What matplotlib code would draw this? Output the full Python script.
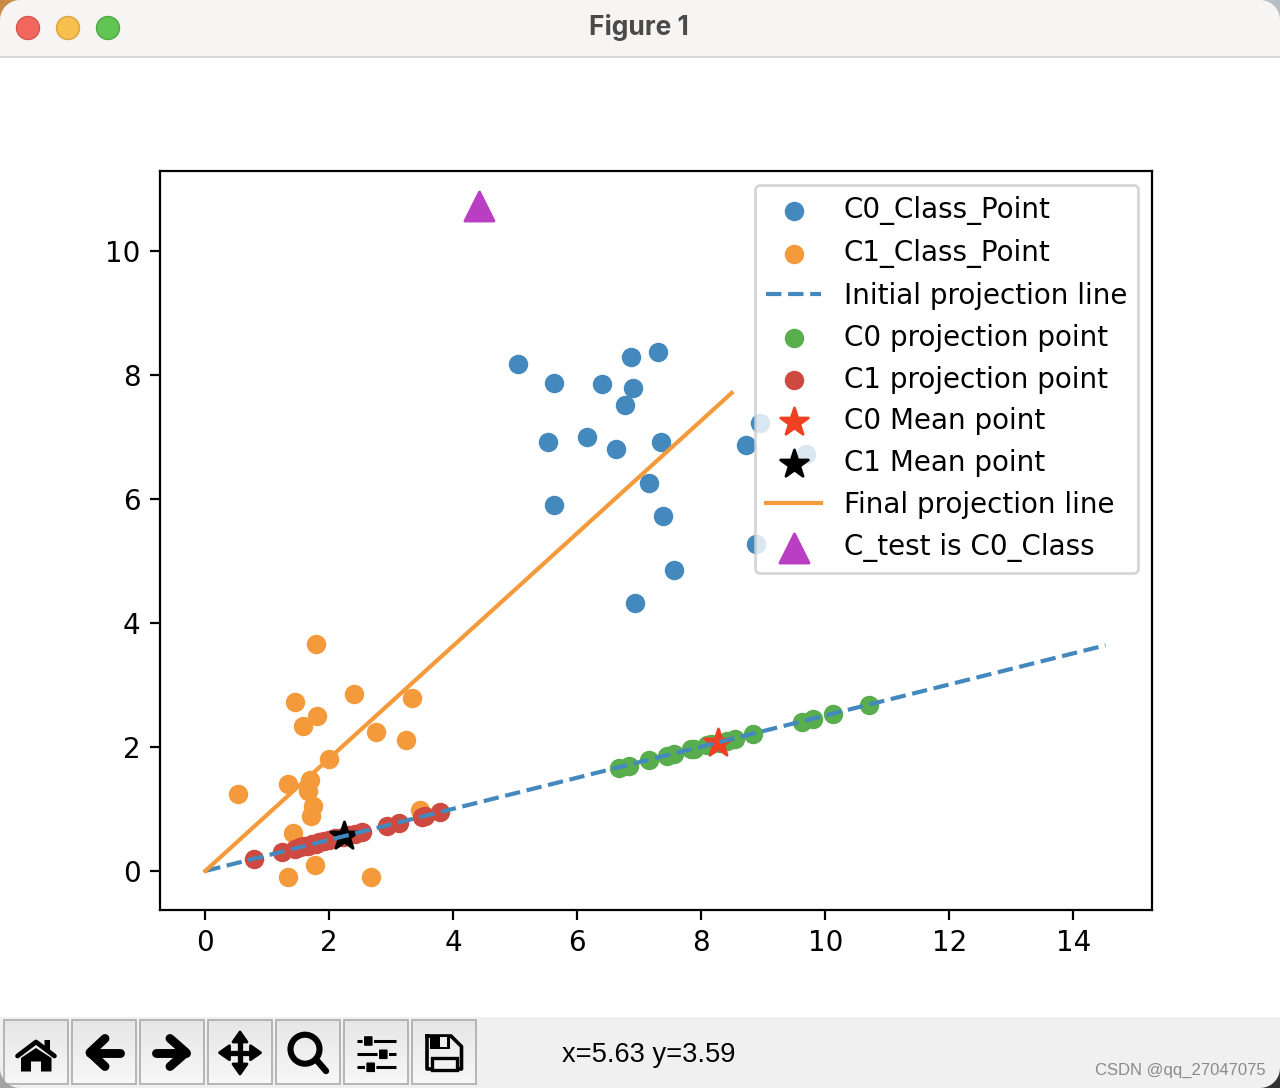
import matplotlib
matplotlib.use('Agg')
import numpy as np
import matplotlib.pyplot as plt
from matplotlib.patches import Circle, Rectangle, Polygon, FancyBboxPatch

c0_x = [5.04, 5.52, 5.62, 5.62, 6.15, 6.40, 6.62, 6.77, 6.86, 6.90, 6.93, 7.15, 7.30, 7.35, 7.38, 7.56, 8.72, 8.94, 9.69, 8.89]
c0_y = [8.18, 6.92, 5.90, 7.87, 7.00, 7.85, 6.81, 7.52, 8.29, 7.79, 4.32, 6.26, 8.37, 6.92, 5.73, 4.85, 6.87, 7.23, 6.73, 5.27]
c1_x = [1.79, 1.45, 2.40, 3.34, 1.80, 1.58, 2.75, 3.24, 2.00, 1.34, 1.69, 1.66, 0.53, 1.74, 1.71, 1.42, 3.46, 1.77, 1.34, 2.67]
c1_y = [3.66, 2.72, 2.85, 2.79, 2.50, 2.33, 2.24, 2.12, 1.80, 1.41, 1.46, 1.29, 1.24, 1.05, 0.88, 0.61, 0.98, 0.10, -0.10, -0.09]

init_line_x = [0, 14.52]
init_line_y = [0, 3.64]
final_line_x = [0, 8.49]
final_line_y = [0, 7.71]

c0_proj_x = [6.67, 6.84, 7.16, 7.45, 7.56, 7.84, 7.88, 8.10, 8.16, 8.30, 8.41, 8.54, 8.83, 9.63, 9.81, 10.13, 10.71]
c0_proj_y = [1.66, 1.70, 1.79, 1.86, 1.89, 1.96, 1.97, 2.03, 2.04, 2.07, 2.10, 2.13, 2.21, 2.41, 2.45, 2.53, 2.68]
c1_proj_x = [0.79, 1.24, 1.45, 1.52, 1.60, 1.66, 1.72, 1.78, 1.84, 1.92, 2.00, 2.10, 2.22, 2.32, 2.42, 2.53, 2.93, 3.13, 3.49, 3.54, 3.79]
c1_proj_y = [0.19, 0.31, 0.36, 0.38, 0.40, 0.41, 0.43, 0.44, 0.46, 0.48, 0.50, 0.53, 0.55, 0.58, 0.60, 0.63, 0.73, 0.78, 0.87, 0.89, 0.95]

c0_mean = (8.27, 2.07)
c1_mean = (2.24, 0.57)
test_point = (4.41, 10.73)

blue = '#4389be'
orange = '#f49a3a'
green = '#58ad4d'
red = '#ce4a40'

fig = plt.figure(figsize=(6.4, 5.44), dpi=200, facecolor='white')

# window frame behind the plot, in screenshot pixels
bg = fig.add_axes([0, 0, 1, 1], zorder=-1)
bg.axis('off')


def px_rect(x, y, w, h, **kw):
    bg.add_patch(Rectangle((x, y), w, h, **kw))


px_rect(0, 0, 1280, 56, fc='#f6f5f4', ec='none')
px_rect(0, 56, 1280, 1.5, fc='#d6d6d6', ec='none')
px_rect(0, 1017, 1280, 71, fc='#f0f0f0', ec='none')


def corner(cx, cy, sx, sy, color):
    # fills what lies outside the rounded window corner
    a = np.linspace(0, np.pi / 2, 12)
    r = 20
    arc = [(cx + sx * (r - r * np.cos(t)), cy + sy * (r - r * np.sin(t))) for t in a]
    bg.add_patch(Polygon([(cx, cy)] + arc, closed=True, fc=color, ec='none', zorder=6))


corner(0, 0, 1, 1, '#c98a45')
corner(1280, 0, -1, 1, '#b9bec3')
corner(0, 1088, 1, -1, '#a3a3a3')
corner(1280, 1088, -1, -1, '#333333')

for cx, fc, ec in [(28, '#f2685e', '#d9534a'), (68, '#f6c04f', '#dda13c'), (108, '#61c554', '#4ea943')]:
    bg.add_patch(Circle((cx, 28), 11.5, fc=fc, ec=ec, lw=0.5))
bg.text(639, 27.5, 'Figure 1', ha='center', va='center', fontsize=9.5, fontweight='bold',
        family='Inter', color='#4a4a4a')

for bx in [4, 72, 140, 208, 276, 344, 412]:
    bg.imshow(np.linspace(0.90, 0.965, 32).reshape(-1, 1), cmap='gray', vmin=0, vmax=1,
              extent=(bx, bx + 64, 1084, 1020), aspect='auto', zorder=1)
    px_rect(bx, 1020, 64, 64, fc='none', ec='#ababab', lw=0.6, zorder=2)


def stroke(xs, ys, lw=3.2, color='black', cap='round'):
    bg.plot(xs, ys, color=color, lw=lw, solid_capstyle=cap, solid_joinstyle='round', zorder=3)


def fill(points, color='black', edge=0.0):
    bg.add_patch(Polygon(points, closed=True, fc=color, ec=color, lw=edge, joinstyle='round', zorder=3))


# home
stroke([17.5, 36, 54.5], [1056, 1042, 1056], lw=1.7)
fill([(21, 1071.5), (21, 1058), (36, 1048), (51.5, 1058), (51.5, 1071.5), (41, 1071.5), (41, 1061.5), (31, 1061.5), (31, 1071.5)])
fill([(44.5, 1040), (50, 1040), (50, 1050.5), (44.5, 1046.5)])
# back, forward
stroke([105, 90, 105], [1038.5, 1052.5, 1066.5])
stroke([90, 120], [1052.5, 1052.5])
stroke([170, 186, 170], [1038.5, 1052.5, 1066.5])
stroke([156, 186], [1052.5, 1052.5])
# pan
stroke([222, 258], [1052.7, 1052.7], lw=1.9, cap='butt')
stroke([240, 240], [1035, 1071], lw=1.9, cap='butt')
fill([(240, 1032), (233, 1042), (247, 1042)], edge=1.0)
fill([(240, 1074), (233, 1064), (247, 1064)], edge=1.0)
fill([(219.5, 1052.7), (229.5, 1045.7), (229.5, 1059.7)], edge=1.0)
fill([(260.5, 1052.7), (250.5, 1045.7), (250.5, 1059.7)], edge=1.0)
# zoom
bg.add_patch(Circle((305, 1049.2), 14.5, fc='none', ec='black', lw=2.2, zorder=3))
stroke([316.5, 326], [1060, 1071], lw=2.3)
# sliders
for ly, kx in [(1041, 368.3), (1054.3, 383.3), (1067.3, 370.7)]:
    stroke([356.7, 395.7], [ly, ly], lw=1.1, cap='butt')
    bg.add_patch(FancyBboxPatch((kx - 3.5, ly - 4), 7, 8, boxstyle='round,pad=1.5', fc='black', ec='#f0f0f0',
                                lw=0.5, zorder=4))
# save
bg.plot([427, 451, 461.5, 461.5, 427, 427], [1036, 1036, 1046.5, 1069, 1069, 1036], color='black', lw=1.3,
        solid_joinstyle='round', zorder=3)
fill([(430, 1036), (450, 1036), (450, 1048.5), (430, 1048.5)])
px_rect(440, 1037, 7, 9.5, fc='#ececec', ec='none', zorder=4)
px_rect(432, 1057.5, 24.5, 12, fc='#f2f2f2', ec='black', lw=1.2, zorder=4)

bg.text(562, 1054.5, 'x=5.63 y=3.59', ha='left', va='center', fontsize=9.8, family='Liberation Sans', color='black')
bg.text(1266, 1070, 'CSDN @qq_27047075', ha='right', va='center', fontsize=6, family='Liberation Sans',
        color='#8a8a8a', zorder=5)
bg.set_xlim(0, 1280)
bg.set_ylim(1088, 0)

# the plot itself
ax = fig.add_axes([0.125, 178 / 1088, 0.775, 739 / 1088])
ax.scatter(c0_x, c0_y, s=36, color=blue, label='C0_Class_Point')
ax.scatter(c1_x, c1_y, s=36, color=orange, label='C1_Class_Point')
ax.plot(init_line_x, init_line_y, '--', color=blue, label='Initial projection line')
ax.scatter(c0_proj_x, c0_proj_y, s=36, color=green, label='C0 projection point')
ax.scatter(c1_proj_x, c1_proj_y, s=36, color=red, label='C1 projection point')
ax.scatter(c0_mean[0], c0_mean[1], s=110, marker='*', color='#ef4023', label='C0 Mean point')
ax.scatter(c1_mean[0], c1_mean[1], s=110, marker='*', color='black', label='C1 Mean point')
ax.plot(final_line_x, final_line_y, color=orange, label='Final projection line')
ax.scatter(test_point[0], test_point[1], s=110, marker='^', color='#b93ec2', label='C_test is C0_Class')
ax.set_xlim(-0.73, 15.27)
ax.set_ylim(-0.63, 11.29)
ax.legend(loc='upper right')

fig.savefig('out.png', dpi=200)
